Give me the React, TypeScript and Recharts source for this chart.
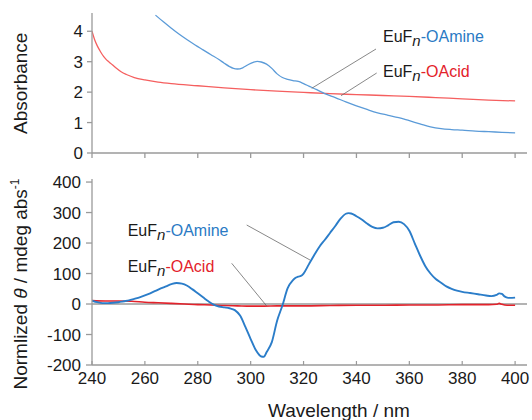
import { LineChart, Line, XAxis, YAxis, ReferenceLine } from 'recharts';

// UV-vis absorbance
const amineAbsWl = [264, 267, 270, 273, 276, 279, 282, 285, 288, 290, 292, 293.5, 295, 297, 299, 301, 302.5, 304, 306, 308, 310, 312, 314, 316, 318, 320, 322, 325, 328, 332, 336, 340, 344, 348, 352, 356, 360, 364, 368, 372, 376, 380, 385, 390, 395, 400];
const amineAbs = [4.53, 4.31, 4.1, 3.9, 3.72, 3.55, 3.39, 3.23, 3.07, 2.95, 2.84, 2.78, 2.76, 2.8, 2.9, 2.98, 3.01, 2.99, 2.92, 2.78, 2.6, 2.48, 2.42, 2.38, 2.35, 2.28, 2.2, 2.08, 1.95, 1.82, 1.68, 1.55, 1.43, 1.32, 1.24, 1.16, 1.06, 0.96, 0.86, 0.8, 0.77, 0.75, 0.72, 0.7, 0.68, 0.66];

const acidAbsWl = [240, 241, 242, 243, 244, 245, 246, 247, 249, 251, 253, 256, 260, 265, 270, 280, 290, 300, 310, 320, 330, 340, 350, 360, 370, 380, 390, 400];
const acidAbs = [4.0, 3.72, 3.52, 3.36, 3.22, 3.11, 3.02, 2.95, 2.8, 2.67, 2.58, 2.48, 2.4, 2.33, 2.28, 2.21, 2.14, 2.08, 2.03, 1.99, 1.95, 1.92, 1.89, 1.86, 1.82, 1.78, 1.74, 1.71];

// CD spectra
const amineCdWl = [240, 242, 244, 246, 248, 250, 252, 254, 256, 258, 260, 262, 264, 266, 268, 270, 272, 274, 276, 278, 280, 282, 284, 286, 288, 290, 292, 294, 296, 298, 300, 302, 304, 305, 306, 308, 310, 312, 314, 316, 317, 318, 319, 320, 322, 324, 326, 328, 330, 332, 334, 336, 337, 338, 340, 342, 344, 346, 348, 350, 352, 354, 356, 358, 360, 362, 364, 366, 368, 370, 372, 374, 376, 378, 380, 383, 386, 389, 391, 393, 394, 395, 396, 397, 398, 400];
const amineCd = [11, 6, 3, 3, 4, 6, 9, 12, 17, 22, 28, 35, 43, 51, 58, 65, 69, 67, 60, 48, 35, 22, 9, -2, -8, -11, -14, -20, -38, -75, -115, -152, -172, -173, -158, -125, -55, -5, 52, 78, 86, 90, 92, 100, 130, 160, 188, 210, 233, 256, 280, 296, 298, 297, 288, 277, 264, 253, 248, 250, 258, 268, 270, 262, 240, 200, 160, 125, 100, 82, 70, 58, 50, 44, 40, 36, 32, 28, 26, 30, 35, 33, 25, 21, 20, 21];

const acidCdWl = [240, 245, 250, 255, 260, 265, 270, 275, 280, 285, 290, 295, 300, 305, 310, 320, 330, 340, 350, 360, 370, 380, 390, 393, 394, 395, 397, 400];
const acidCd = [11, 10, 10, 9, 6, 4, 2, 0, -2, -3, -5, -6, -7, -7, -6, -6, -5, -4, -4, -3, -3, -2, -2, -1, 2, -1, -4, -4];

const wlTicks = [240, 260, 280, 300, 320, 340, 360, 380, 400];
const absTicks = [0, 1, 2, 3, 4];
const cdTicks = [-200, -100, 0, 100, 200, 300, 400];

const zip = (xs: number[], ys: number[]) => xs.map((x, i) => ({ wl: x, v: ys[i] }));

const FONT = '"Liberation Sans", Arial, Helvetica, sans-serif';
const AXIS = '#9a9a9a';
const tickStyle = { fill: '#1a1a1a', fontSize: 17, fontFamily: FONT };

const BottomTick = (props: any) => {
  const { x, y, payload } = props;
  return (
    <g>
      <line x1={x} y1={y} x2={x} y2={y - 4} stroke={AXIS} strokeWidth={1.2} />
      <text x={x} y={y + 7} dy="0.71em" textAnchor="middle" {...tickStyle}>
        {payload.value}
      </text>
    </g>
  );
};

function Tag({ x, y, suffix, color }: { x: number; y: number; suffix: string; color: string }) {
  return (
    <text x={x} y={y} fontSize={16} fontFamily={FONT} fill="#1a1a1a">
      EuF
      <tspan fontStyle="italic" dy={4} fontSize={15}>n</tspan>
      <tspan dy={-4} fill={color}>{suffix}</tspan>
    </text>
  );
}

export default function App() {
  return (
    <div style={{ position: 'absolute', left: 0, top: 0, width: 532, height: 420, background: '#fff' }}>
      <div style={{ position: 'absolute', left: 0, top: 0 }}>
        <LineChart width={532} height={163} margin={{ top: 13, right: 5, left: 0, bottom: 0 }}>
          <XAxis
            type="number"
            dataKey="wl"
            domain={[240, 404.5]}
            ticks={wlTicks}
            interval={0}
            allowDataOverflow
            height={10}
            tickSize={5}
            tickFormatter={() => ''}
            stroke={AXIS}
            strokeWidth={1.3}
          />
          <YAxis
            type="number"
            domain={[0, 4.6]}
            ticks={absTicks}
            interval={0}
            allowDataOverflow
            width={92}
            tickSize={5}
            tickMargin={4}
            tick={tickStyle}
            stroke={AXIS}
            strokeWidth={1.3}
          />
          <Line data={zip(acidAbsWl, acidAbs)} dataKey="v" type="monotone" stroke="#f55f5f" strokeWidth={1.3} dot={false} isAnimationActive={false} />
          <Line data={zip(amineAbsWl, amineAbs)} dataKey="v" type="monotone" stroke="#5b9bd8" strokeWidth={1.3} dot={false} isAnimationActive={false} />
        </LineChart>
      </div>
      <div style={{ position: 'absolute', left: 0, top: 163 }}>
        <LineChart width={532} height={257} margin={{ top: 16, right: 5, left: 0, bottom: 0 }}>
          <XAxis
            type="number"
            dataKey="wl"
            domain={[240, 404.5]}
            ticks={wlTicks}
            interval={0}
            allowDataOverflow
            height={55}
            tickSize={0}
            tickMargin={0}
            tickLine={false}
            tick={<BottomTick />}
            stroke={AXIS}
            strokeWidth={1.3}
          />
          <YAxis
            type="number"
            domain={[-200, 410]}
            ticks={cdTicks}
            interval={0}
            allowDataOverflow
            width={92}
            tickSize={6}
            tickMargin={5}
            tick={tickStyle}
            stroke={AXIS}
            strokeWidth={1.3}
          />
          <ReferenceLine y={0} stroke={AXIS} strokeWidth={1.3} />
          <Line data={zip(acidCdWl, acidCd)} dataKey="v" type="monotone" stroke="#e3222b" strokeWidth={1.6} dot={false} isAnimationActive={false} />
          <Line data={zip(amineCdWl, amineCd)} dataKey="v" type="monotone" stroke="#2b7dc9" strokeWidth={1.9} dot={false} isAnimationActive={false} />
        </LineChart>
      </div>
      <svg width={532} height={420} style={{ position: 'absolute', left: 0, top: 0, pointerEvents: 'none' }}>
        <g stroke="#6a6a6a" strokeWidth={0.8}>
          <line x1={311.7} y1={88.3} x2={376} y2={49} />
          <line x1={341} y1={95.7} x2={376.7} y2={73} />
          <line x1={246.7} y1={225} x2={310} y2={260} />
          <line x1={231.7} y1={263.3} x2={266.7} y2={306} />
        </g>
        <Tag x={383} y={41.7} suffix="-OAmine" color="#2a7ac4" />
        <Tag x={383} y={77.3} suffix="-OAcid" color="#e3222b" />
        <Tag x={127.7} y={235.7} suffix="-OAmine" color="#2a7ac4" />
        <Tag x={127.7} y={271.7} suffix="-OAcid" color="#e3222b" />
        <text transform="translate(27,83.3) rotate(-90)" textAnchor="middle" fontSize={19} fontFamily={FONT} fill="#1a1a1a">
          Absorbance
        </text>
        <text transform="translate(27,284) rotate(-90)" textAnchor="middle" fontSize={19} fontFamily={FONT} fill="#1a1a1a">
          Normlized <tspan fontStyle="italic">θ</tspan> / mdeg abs
          <tspan fontSize={12} dy={-8}>-1</tspan>
        </text>
        <text x={268} y={417} fontSize={19} fontFamily={FONT} fill="#1a1a1a">
          Wavelength / nm
        </text>
      </svg>
    </div>
  );
}
